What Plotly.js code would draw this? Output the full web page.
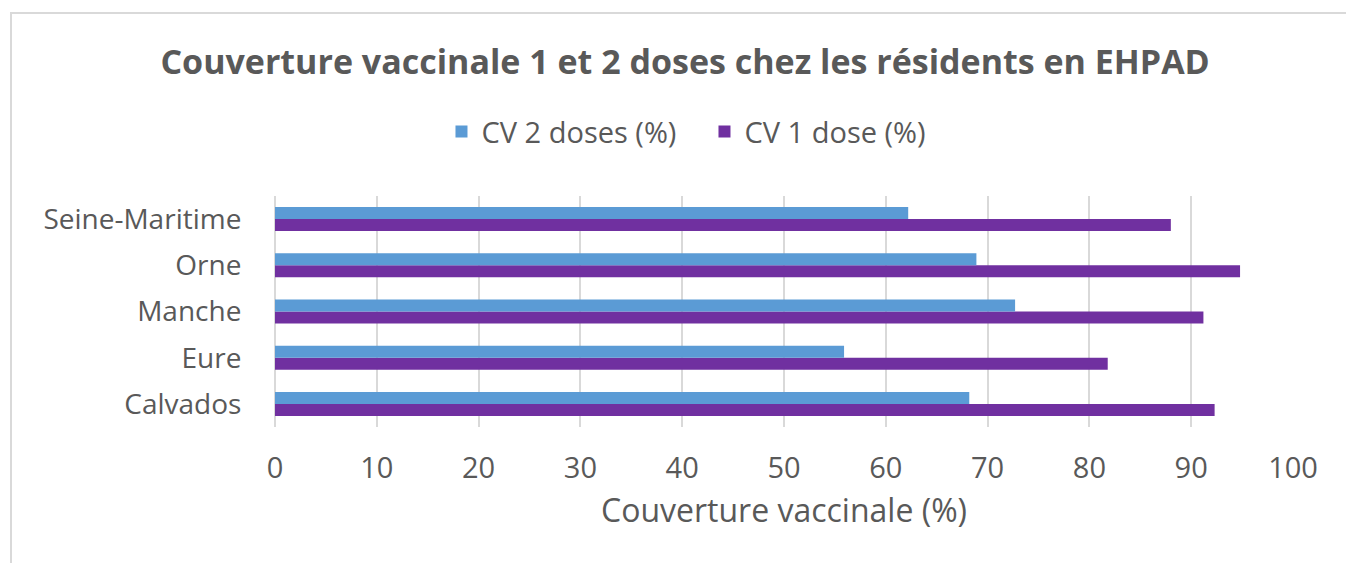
<!DOCTYPE html>
<html>
<head>
<meta charset="utf-8">
<script src="https://cdn.plot.ly/plotly-3.0.1.min.js"></script>
<style>
	body {margin: 0; background: #fff;}
	#wrap {position: relative; width: 1346px; height: 563px;}
	#chart {width: 1346px; height: 563px;}
	/* the light frame of the original chart, only top and left show */
	#frame {position: absolute; left: 10px; top: 12px; right: 0; bottom: 0; border-top: 2px solid #D9D9D9; border-left: 2px solid #D9D9D9; pointer-events: none;}
</style>
</head>
<body>
<div id="wrap">
	<div id="chart"></div>
	<div id="frame"></div>
</div>
<script>
let departements = ["Calvados", "Eure", "Manche", "Orne", "Seine-Maritime"]
let cv2Doses = [68.2, 55.9, 72.7, 68.9, 62.2]
let cv1Dose = [92.3, 81.8, 91.2, 94.8, 88.0]
let xTicks = [0, 10, 20, 30, 40, 50, 60, 70, 80, 90, 100]

let textColor = "#595959"
let gridColor = "#D9D9D9"

//Purple goes first so it is drawn below the blue bar in each group.
let data = [
	{
		type: "bar",
		orientation: "h",
		name: "CV 1 dose (%)",
		y: departements,
		x: cv1Dose,
		marker: {color: "#7030A0"},
		hoverinfo: "x+name"
	},
	{
		type: "bar",
		orientation: "h",
		name: "CV 2 doses (%)",
		y: departements,
		x: cv2Doses,
		marker: {color: "#5B9BD5"},
		hoverinfo: "x+name"
	}
]

let layout = {
	width: 1346,
	height: 563,
	paper_bgcolor: "#fff",
	plot_bgcolor: "#fff",
	font: {family: "Open Sans, sans-serif", color: textColor, size: 28},
	margin: {l: 275, r: 53, t: 196, b: 136},
	barmode: "group",
	bargap: 0.48,
	bargroupgap: 0,
	title: {
		text: "<b>Couverture vaccinale 1 et 2 doses chez les résidents en EHPAD</b>",
		font: {size: 34, color: textColor},
		x: 0.509,
		xanchor: "center",
		y: 0.89,
		yanchor: "middle"
	},
	showlegend: true,
	legend: {
		orientation: "h",
		traceorder: "reversed",
		xref: "container",
		yref: "container",
		x: 0.328,
		xanchor: "left",
		y: 0.766,
		yanchor: "middle",
		font: {size: 29, color: textColor},
		itemwidth: 30,
		entrywidth: 218,
		entrywidthmode: "pixels"
	},
	xaxis: {
		range: [0, 100],
		tickvals: xTicks,
		showgrid: true,
		gridcolor: gridColor,
		gridwidth: 2,
		zeroline: true,
		zerolinecolor: gridColor,
		zerolinewidth: 2,
		showline: false,
		ticks: "outside",
		ticklen: 15,
		tickcolor: "rgba(0,0,0,0)",
		tickfont: {size: 29},
		automargin: false,
		title: {text: "Couverture vaccinale (%)", font: {size: 32}, standoff: 14}
	},
	yaxis: {
		showgrid: false,
		zeroline: false,
		showline: false,
		ticks: "outside",
		ticklen: 27,
		tickcolor: "rgba(0,0,0,0)",
		tickfont: {size: 28},
		automargin: false
	}
}

Plotly.newPlot("chart", data, layout, {displayModeBar: false, staticPlot: true})
</script>
</body>
</html>
